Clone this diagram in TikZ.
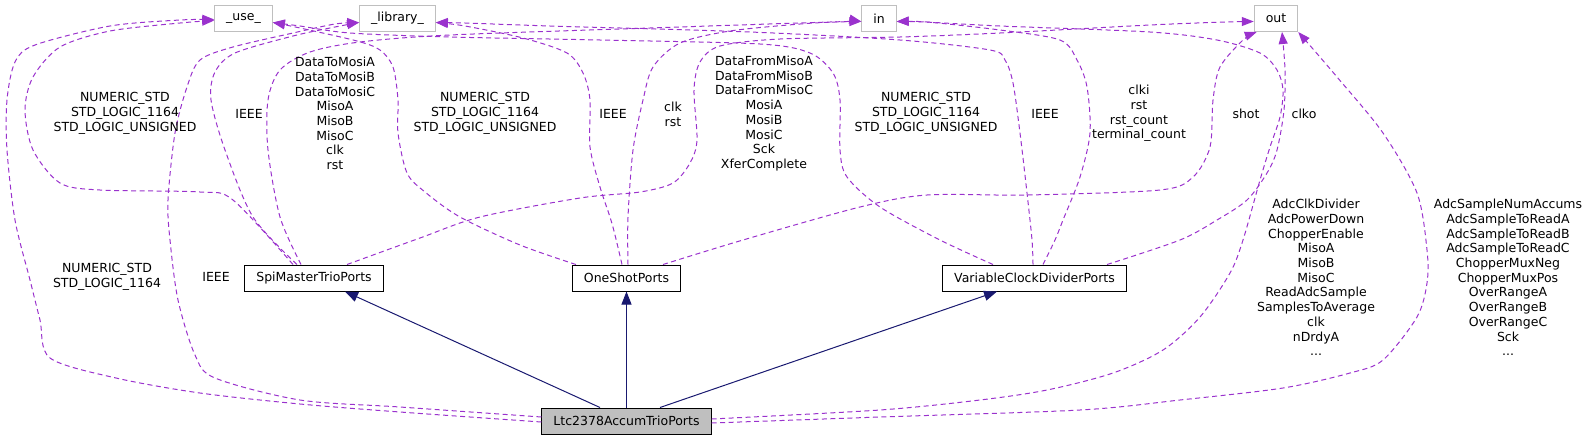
\documentclass[tikz,border=0pt]{standalone}
\usepackage{fontspec}
\setmainfont{DejaVu Sans}
\usepackage{tikz}
\usetikzlibrary{arrows.meta}

\definecolor{linkpurple}{HTML}{9A32CD}
\definecolor{inhnavy}{HTML}{191970}
\definecolor{boxgray}{HTML}{BFBFBF}

\begin{document}
\begin{tikzpicture}[x=1pt, y=-1pt,
  every node/.style={font=\fontsize{12.5}{14.7}\selectfont},
  cls/.style={draw=black, fill=white, line width=1pt, minimum height=26pt, inner xsep=11.5pt, inner ysep=0pt},
  ext/.style={cls, draw=boxgray},
  cur/.style={cls, fill=boxgray},
  inherit/.style={draw=inhnavy, line width=1pt, -{Triangle[length=13pt,width=10pt]}},
  usage/.style={draw=linkpurple, line width=1pt, dash pattern=on 5pt off 3.5pt, -{Triangle[length=12pt,width=9pt]}},
  lbl/.style={align=center, inner sep=0pt}
]

\useasboundingbox (0,0) rectangle (1594,440);

% Boxes
\node[ext] (usebox) at (243.5,18.5) {\_use\_};
\node[ext] (libbox) at (397.5,18.5) {\_library\_};
\node[ext] (inbox) at (879,18.5) {in};
\node[ext] (outbox) at (1276,18.5) {out};
\node[cls] (spi) at (314,278) {SpiMasterTrioPorts};
\node[cls] (oneshot) at (626.5,278) {OneShotPorts};
\node[cls] (vcd) at (1034.5,278) {VariableClockDividerPorts};
\node[cur] (ltc) at (626.5,421) {Ltc2378AccumTrioPorts};

% Inheritance
\draw[inherit] ([xshift=-26.5pt]ltc.north) -- ([xshift=31pt]spi.south);
\draw[inherit] (ltc.north) -- (oneshot.south);
\draw[inherit] ([xshift=33.5pt]ltc.north) -- ([xshift=-37.5pt]vcd.south);

% Usage links of SpiMasterTrioPorts
\draw[usage] plot[smooth, tension=0.5] coordinates {([xshift=-21pt]spi.north) (233,200) (200,192) (100,190) (60,183) (33,150) (25,110) (33,77) (60,47) (110,31) (180,23) ([yshift=-2pt]usebox.west)};
\draw[usage] plot[smooth, tension=0.5] coordinates {([xshift=-17pt]spi.north) (253,217) (225,150) (211,100) (215,72) (235,53) (293,36) (335,27) ([yshift=-4pt]libbox.west)};
\draw[usage] plot[smooth, tension=0.5] coordinates {([xshift=-13pt]spi.north) (280,217) (268,150) (268,100) (280,70) (310,52) (360,42) (450,35) (650,28) (830,22) ([yshift=-3pt]inbox.west)};
\draw[usage] plot[smooth, tension=0.5] coordinates {([xshift=33pt]spi.north) (420,238) (480,217) (580,198) (640,192) (673,183) (690,163) (697,140) (694,90) (700,62) (720,46) (780,39) (900,37) (1000,33) (1150,25) (1225,22) ([yshift=-3pt]outbox.west)};

% Usage links of OneShotPorts
\draw[usage] plot[smooth, tension=0.5] coordinates {([xshift=4pt]oneshot.north west) (520,245) (460,217) (425,192) (407,173) (398,133) (398,100) (393,67) (380,50) (357,41) (300,28) ([yshift=-4pt]usebox.east)};
\draw[usage] plot[smooth, tension=0.5] coordinates {([xshift=-4.5pt]oneshot.north) (615,235) (610,217) (600,187) (590,147) (590,100) (583,73) (567,53) (523,38) (465,26) ([yshift=-4pt]libbox.east)};
\draw[usage] plot[smooth, tension=0.5] coordinates {([xshift=1.5pt]oneshot.north) (628,217) (633,150) (643,100) (653,67) (680,43) (730,31) (800,24) (835,22) ([yshift=-3pt]inbox.west)};
\draw[usage] plot[smooth, tension=0.5] coordinates {([xshift=36.5pt]oneshot.north) (743,240) (860,207) (927,195) (1027,195) (1160,190) (1193,177) (1210,147) (1213,100) (1220,67) (1243,40) ([xshift=3pt]outbox.south west)};

% Usage links of VariableClockDividerPorts
\draw[usage] plot[smooth, tension=0.5] coordinates {([xshift=-41.5pt]vcd.north) (940,240) (880,207) (847,177) (840,150) (840,100) (833,73) (810,53) (760,44) (600,40) (450,37) (350,33) (300,26) ([yshift=-4pt]usebox.east)};
\draw[usage] plot[smooth, tension=0.5] coordinates {([xshift=-1.5pt]vcd.north) (1032,240) (1027,193) (1020,133) (1013,83) (1005,60) (990,50) (900,40) (750,32) (550,26) (465,23) ([yshift=-4pt]libbox.east)};
\draw[usage] plot[smooth, tension=0.5] coordinates {([xshift=8.5pt]vcd.north) (1055,240) (1063,220) (1080,177) (1090,133) (1087,87) (1077,60) (1060,40) (1000,30) (927,22) ([yshift=-3pt]inbox.east)};
\draw[usage] plot[smooth, tension=0.5] coordinates {([xshift=72.5pt]vcd.north) (1180,240) (1217,220) (1247,200) (1267,173) (1277,150) (1284,110) (1285,70) ([xshift=6pt]outbox.south)};

% Usage links of Ltc2378AccumTrioPorts
\draw[usage] plot[smooth, tension=0.5] coordinates {([yshift=-1pt]ltc.west) (400,412) (300,404) (200,393) (116,378) (50,358) (40,320) (30,280) (15,220) (7,150) (7,100) (15,62) (35,45) (110,26) (180,20) ([yshift=-1pt]usebox.west)};
\draw[usage] plot[smooth, tension=0.5] coordinates {([yshift=4pt]ltc.west) (400,407) (300,400) (215,378) (195,355) (178,300) (170,240) (168,200) (175,133) (187,87) (200,60) (233,47) (293,33) (335,24) ([yshift=-4pt]libbox.west)};
\draw[usage] plot[smooth, tension=0.5] coordinates {([yshift=2pt]ltc.east) (880,410) (980,400) (1047,390) (1113,373) (1163,350) (1200,317) (1230,273) (1243,240) (1260,180) (1270,147) (1280,117) (1283,90) (1277,70) (1260,53) (1217,40) (1150,32) (1000,26) (925,22) ([yshift=-3pt]inbox.east)};
\draw[usage] plot[smooth, tension=0.5] coordinates {([yshift=-2pt]ltc.east) (880,417) (1080,410) (1180,400) (1283,388) (1350,373) (1383,360) (1417,317) (1427,283) (1427,250) (1417,193) (1383,133) (1337,77) (outbox.south east)};

% Labels
\node[lbl] (spiuse) at (125,113.5) {NUMERIC\_STD\\STD\_LOGIC\_1164\\STD\_LOGIC\_UNSIGNED};
\node[lbl] (spilib) at (249,114) {IEEE};
\node[lbl] (spiin) at (335,113.5) {DataToMosiA\\DataToMosiB\\DataToMosiC\\MisoA\\MisoB\\MisoC\\clk\\rst};
\node[lbl] (oneuse) at (485,113.5) {NUMERIC\_STD\\STD\_LOGIC\_1164\\STD\_LOGIC\_UNSIGNED};
\node[lbl] (onelib) at (613,114) {IEEE};
\node[lbl] (onein) at (673,114) {clk\\rst};
\node[lbl] (spiout) at (764,113.5) {DataFromMisoA\\DataFromMisoB\\DataFromMisoC\\MosiA\\MosiB\\MosiC\\Sck\\XferComplete};
\node[lbl] (vcduse) at (926,113.5) {NUMERIC\_STD\\STD\_LOGIC\_1164\\STD\_LOGIC\_UNSIGNED};
\node[lbl] (vcdlib) at (1045,114) {IEEE};
\node[lbl] (vcdin) at (1139,113.5) {clki\\rst\\rst\_count\\terminal\_count};
\node[lbl] (oneout) at (1246,114) {shot};
\node[lbl] (vcdout) at (1304,114) {clko};
\node[lbl] (ltcuse) at (107,276.5) {NUMERIC\_STD\\STD\_LOGIC\_1164};
\node[lbl] (ltclib) at (216,277) {IEEE};
\node[lbl] (ltcin) at (1316,277.5) {AdcClkDivider\\AdcPowerDown\\ChopperEnable\\MisoA\\MisoB\\MisoC\\ReadAdcSample\\SamplesToAverage\\clk\\nDrdyA\\...};
\node[lbl] (ltcout) at (1508,277.5) {AdcSampleNumAccums\\AdcSampleToReadA\\AdcSampleToReadB\\AdcSampleToReadC\\ChopperMuxNeg\\ChopperMuxPos\\OverRangeA\\OverRangeB\\OverRangeC\\Sck\\...};

\end{tikzpicture}
\end{document}
